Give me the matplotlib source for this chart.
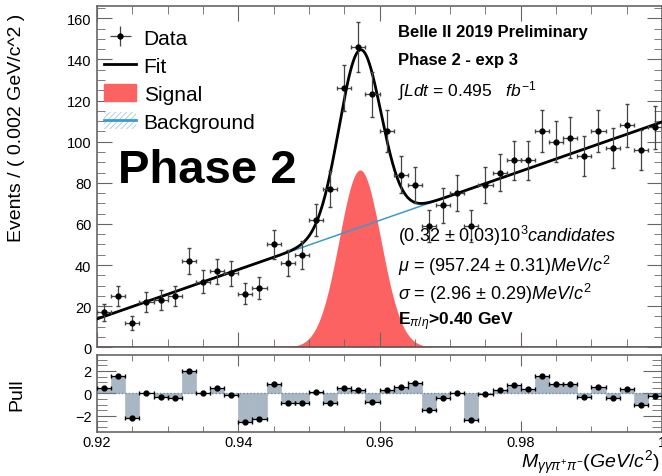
import numpy as np
import matplotlib
matplotlib.use("Agg")
import matplotlib.pyplot as plt
from matplotlib.patches import Patch
from matplotlib.lines import Line2D
from matplotlib.ticker import MultipleLocator

plt.rcParams['font.family'] = ['Liberation Sans', 'DejaVu Sans']
plt.rcParams['mathtext.fontset'] = 'custom'
plt.rcParams['mathtext.rm'] = 'Liberation Sans'
plt.rcParams['mathtext.it'] = 'Liberation Sans:italic'
plt.rcParams['mathtext.bf'] = 'Liberation Sans:bold'
plt.rcParams['hatch.linewidth'] = 0.6

# histogram: 40 bins of 0.002 GeV/c^2 from 0.92
bin_lo = 0.92
bin_w = 0.002
counts = [17, 25, 12, 22, 23, 25, 42, 32, 37, 36,
          26, 29, 50, 41, 45, 62, 77, 126, 146, 123,
          105, 84, 79, 59, 69, 75, 59, 79, 85, 91,
          91, 105, 100, 102, 93, 105, 97, 108, 96, 107]
pulls = [0.48, 1.52, -2.2, 0.0, -0.36, -0.42, 1.97, 0.06, 0.45, -0.12,
         -2.57, -2.33, 0.87, -0.87, -0.87, 0.12, -0.9, 0.48, 0.27, -0.8,
         0.3, 0.57, 0.96, -1.52, -0.45, 0.0, -2.39, -0.06, 0.3, 0.72,
         0.42, 1.58, 0.87, 0.8, -0.36, 0.6, -0.42, 0.42, -1.07, -0.2]

# fit result
bkg_at_lo = 13.8     # events/bin at 0.92
bkg_at_hi = 109.6    # events/bin at 1.00
n_sig = 320
mu = 0.95724
sigma = 0.00296

counts = np.array(counts, dtype=float)
centers = bin_lo + bin_w * (np.arange(len(counts)) + 0.5)
x_hi = bin_lo + bin_w * len(counts)

xs = np.linspace(bin_lo, x_hi, 1000)
bkg = bkg_at_lo + (bkg_at_hi - bkg_at_lo) * (xs - bin_lo) / (x_hi - bin_lo)
sig = n_sig * bin_w / (np.sqrt(2 * np.pi) * sigma) * np.exp(-0.5 * ((xs - mu) / sigma) ** 2)

W, H = 662, 477
fig = plt.figure(figsize=(W / 100, H / 100), dpi=100)
ax = fig.add_axes([97 / W, 1 - 348.3 / H, (662 - 97) / W, (348.3 - 7) / H])
ax2 = fig.add_axes([97 / W, 1 - 432.7 / H, (662 - 97) / W, (432.7 - 356) / H])

frame = '#666666'
for a in (ax, ax2):
    for s in a.spines.values():
        s.set_color(frame)
        s.set_linewidth(1.2)
    a.tick_params(which='both', direction='in', top=True, right=True, color=frame, labelsize=10.5)
    a.set_xlim(bin_lo, x_hi)
    a.xaxis.set_major_locator(MultipleLocator(0.02))
    a.xaxis.set_minor_locator(MultipleLocator(0.005))

# main panel
ax.fill_between(xs, 0, sig, color='#fd6262', lw=0, zorder=1)
ax.axhline(0, color='#8b1a1a', lw=1.2, zorder=2)
ax.plot(xs, bkg, color='#3a9ad0', lw=1.1, zorder=3)
ax.plot(xs, bkg + sig, color='black', lw=2, zorder=4)
ax.errorbar(centers, counts, xerr=bin_w / 2, yerr=np.sqrt(counts), fmt='o', ms=3.5,
            color='black', ecolor='#444444', elinewidth=0.9, capsize=1.5, zorder=5)
ax.set_ylim(0, 166)
ax.yaxis.set_major_locator(MultipleLocator(20))
ax.yaxis.set_minor_locator(MultipleLocator(5))
ax.tick_params(which='major', length=11, pad=4)
ax.tick_params(which='minor', length=6)
ax.tick_params(axis='x', labelbottom=False)

handles = [
    ax.errorbar([], [], xerr=1, yerr=1, fmt='o', ms=3.5, color='black', ecolor='#444444',
                elinewidth=0.9, capsize=2),
    Line2D([], [], color='black', lw=2),
    Patch(facecolor='#fd6262', edgecolor='#fd6262'),
    (Patch(facecolor='white', edgecolor='#9ccbe6', hatch='//////', lw=0),
     Line2D([], [], color='#3a9ad0', lw=2)),
]
ax.legend(handles, ['Data', 'Fit', 'Signal', 'Background'], loc='upper left',
          bbox_to_anchor=(104 / W, 1 - 29 / H), bbox_transform=fig.transFigure,
          frameon=False, fontsize=15, handlelength=1.55, handleheight=0.9,
          handletextpad=0.35, labelspacing=0.39, borderpad=0, borderaxespad=0)

fig.text(118 / W, 1 - 183 / H, 'Phase 2', fontsize=34, fontweight='bold')
fig.text(398 / W, 1 - 37 / H, 'Belle II 2019 Preliminary', fontsize=12, fontweight='bold')
fig.text(398 / W, 1 - 65.5 / H, 'Phase 2 - exp 3', fontsize=12, fontweight='bold')
fig.text(398 / W, 1 - 96.5 / H, r'$\int Ldt$ = 0.495   $fb^{-1}$', fontsize=12.5)
fig.text(398 / W, 1 - 242 / H, r'(0.32 ± 0.03)10$^{3}$$candidates$', fontsize=13)
fig.text(398 / W, 1 - 271.5 / H, r'$\mu$ = (957.24 ± 0.31)$MeV/c^{2}$', fontsize=13)
fig.text(398 / W, 1 - 300 / H, r'$\sigma$ = (2.96 ± 0.29)$MeV/c^{2}$', fontsize=13)
fig.text(398 / W, 1 - 325.5 / H, r'E$_{\pi/\eta}$>0.40 GeV', fontsize=12.5, fontweight='bold')

fig.text(17 / W, 1 - 128 / H, 'Events / ( 0.002 GeV/c^2 )', rotation=90,
         fontsize=14, ha='center', va='center')

# pull panel
ax2.bar(centers, pulls, width=bin_w, color='#a9b7c4', edgecolor='#a9b7c4', lw=0.5, zorder=1)
ax2.axhline(0, color='#6d8aa6', ls=(0, (1, 1.5)), lw=1, zorder=2)
ax2.errorbar(centers, pulls, xerr=bin_w / 2, fmt='o', ms=3.5, color='black',
             elinewidth=0.9, capsize=1.5, zorder=3)
ax2.set_ylim(-3.42, 3.42)
ax2.yaxis.set_major_locator(MultipleLocator(2))
ax2.yaxis.set_minor_locator(MultipleLocator(0.5))
ax2.tick_params(axis='y', which='major', length=14, pad=4)
ax2.tick_params(axis='y', which='minor', length=7)
ax2.tick_params(axis='x', which='major', length=8, pad=2.5)
ax2.tick_params(axis='x', which='minor', length=4)
ax2.set_xticks([0.92, 0.94, 0.96, 0.98, 1.0])
ax2.set_xticklabels(['0.92', '0.94', '0.96', '0.98', '1'])
fig.text(17 / W, 1 - 395 / H, 'Pull', rotation=90, fontsize=14, ha='center', va='center')
fig.text(660 / W, 1 - 468.5 / H, r'$M_{\gamma\gamma\pi^{+}\pi^{-}}(GeV/c^{2})$',
         fontsize=14, ha='right', va='baseline')

fig.savefig('out.png', dpi=100)
